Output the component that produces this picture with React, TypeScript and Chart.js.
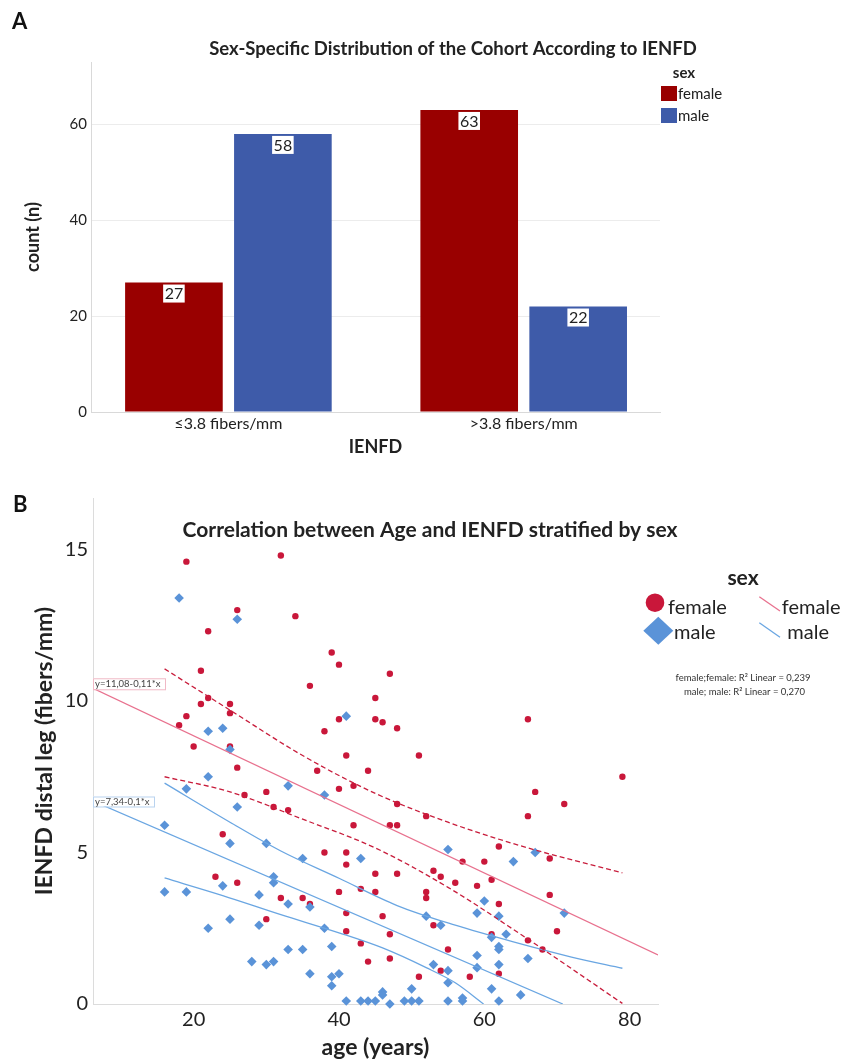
import React, { useEffect, useRef } from 'react';
import { Chart, registerables } from 'chart.js';
Chart.register(...registerables);

const FONT = 'Lato, "Open Sans", sans-serif';

// ---------- Panel A data ----------
const barCategories = ['≤3.8 fibers/mm', '>3.8 fibers/mm'];
const barFemale = [27, 63];
const barMale = [58, 22];
const countTicks = [0, 20, 40, 60];
const titleA = 'Sex-Specific Distribution of the Cohort According to IENFD';

// ---------- Panel B data ----------
const femaleAge = [
  19, 32, 26, 34, 22, 39, 40, 21, 47, 36,
  22, 45, 21, 25, 19, 25, 18, 40, 45, 46,
  48, 38, 66, 20, 25, 41, 51, 26, 37, 44,
  79, 40, 42, 67, 27, 30, 48, 71, 31, 33,
  52, 66, 42, 47, 48, 24, 62, 38, 41, 41,
  57, 60, 69, 45, 48, 53, 54, 61, 23, 26,
  56, 59, 40, 43, 45, 52, 52, 69, 32, 35,
  36, 62, 41, 46, 30, 53, 41, 47, 70, 61,
  43, 66, 68, 55, 44, 47, 54, 62, 58, 51,
];
const femaleIenfd = [
  14.6, 14.8, 13.0, 12.8, 12.3, 11.6, 11.2, 11.0, 10.9, 10.5,
  10.1, 10.1, 9.9, 9.9, 9.5, 9.6, 9.2, 9.4, 9.4, 9.3,
  9.1, 9.0, 9.4, 8.5, 8.5, 8.2, 8.2, 7.8, 7.7, 7.7,
  7.5, 7.1, 7.2, 7.0, 6.9, 7.0, 6.6, 6.6, 6.5, 6.4,
  6.2, 6.2, 5.9, 5.9, 5.9, 5.6, 5.2, 5.0, 5.0, 4.6,
  4.7, 4.7, 4.8, 4.3, 4.3, 4.4, 4.2, 4.1, 4.2, 4.0,
  4.0, 3.9, 3.7, 3.8, 3.7, 3.7, 3.5, 3.6, 3.5, 3.5,
  3.3, 3.3, 3.0, 2.9, 2.8, 2.6, 2.4, 2.3, 2.4, 2.3,
  2.0, 2.1, 1.8, 1.8, 1.4, 1.5, 1.1, 1.0, 0.9, 0.9,
];
const maleAge = [
  18, 26, 22, 24, 41, 25, 22, 19, 33, 38,
  26, 16, 25, 30, 35, 43, 55, 67, 64, 31,
  31, 24, 16, 19, 29, 33, 36, 60, 59, 62,
  71, 52, 25, 29, 22, 38, 54, 61, 63, 33,
  35, 39, 62, 62, 59, 66, 28, 31, 30, 53,
  62, 55, 59, 36, 39, 40, 39, 55, 50, 46,
  46, 61, 65, 57, 41, 43, 44, 45, 49, 50,
  51, 55, 57, 62, 47,
];
const maleIenfd = [
  13.4, 12.7, 9.0, 9.1, 9.5, 8.4, 7.5, 7.1, 7.2, 6.9,
  6.5, 5.9, 5.3, 5.3, 4.8, 4.8, 5.1, 5.0, 4.7, 4.2,
  4.0, 3.9, 3.7, 3.7, 3.6, 3.3, 3.2, 3.4, 3.0, 2.9,
  3.0, 2.9, 2.8, 2.6, 2.5, 2.5, 2.6, 2.2, 2.3, 1.8,
  1.8, 1.9, 1.9, 1.8, 1.6, 1.5, 1.4, 1.4, 1.3, 1.3,
  1.3, 1.1, 1.2, 1.0, 0.9, 1.0, 0.6, 0.7, 0.5, 0.4,
  0.3, 0.5, 0.3, 0.2, 0.1, 0.1, 0.1, 0.1, 0.1, 0.1,
  0.1, 0.1, 0.1, 0.1, 0.0,
];

// fit lines (end points)
const femaleFitAge = [6.15, 83.9];
const femaleFitVal = [10.42, 1.62];
const maleFitAge = [6.15, 70.8];
const maleFitVal = [6.7, 0];
// confidence bands
const femaleCiAge = [16, 25, 35, 45, 55, 65, 79];
const femaleCiUpper = [11.06, 9.7, 8.2, 6.95, 6.0, 5.22, 4.33];
const femaleCiLower = [7.5, 7.0, 6.1, 5.15, 3.85, 2.3, 0.02];
const maleCiUpperAge = [16, 25, 32, 40, 48, 56, 64, 72, 79];
const maleCiUpper = [7.29, 6.0, 5.05, 4.15, 3.25, 2.6, 2.05, 1.55, 1.18];
const maleCiLowerAge = [16, 24, 32, 40, 46, 52, 56, 59.9];
const maleCiLower = [4.16, 3.58, 2.95, 2.35, 1.85, 1.2, 0.7, 0];

const ageTicks = [20, 40, 60, 80];
const ienfdTicks = [0, 5, 10, 15];
const titleB = 'Correlation between Age and IENFD stratified by sex';
const eqFemale = 'y=11,08-0,11*x';
const eqMale = 'y=7,34-0,1*x';
const r2Female = 'female;female: R² Linear = 0,239';
const r2Male = 'male; male: R² Linear = 0,270';

const C_BAR_F = '#990000';
const C_BAR_M = '#3e5ba9';
const C_PT_F = '#c9173a';
const C_PT_M = '#5a93d8';
const C_FIT_F = '#e8718e';
const C_CI_F = '#c81d3c';
const C_LN_M = '#6aa6e2';
const TXT = '#222';

const pts = (xs: number[], ys: number[]) => xs.map((x, i) => ({ x, y: ys[i] }));

const pluginA = {
  id: 'panelA',
  afterDatasetsDraw(chart: any) {
    const ctx = chart.ctx;
    ctx.save();
    const sets = [barFemale, barMale];
    ctx.font = `16px ${FONT}`;
    chart.data.datasets.forEach((_: any, di: number) => {
      const meta = chart.getDatasetMeta(di);
      meta.data.forEach((el: any, i: number) => {
        const txt = String(sets[di][i]);
        const w = ctx.measureText(txt).width + 3;
        const top = el.y + 2;
        ctx.fillStyle = '#fff';
        ctx.fillRect(el.x - w / 2, top, w, 18);
        ctx.fillStyle = TXT;
        ctx.textAlign = 'center';
        ctx.textBaseline = 'middle';
        ctx.fillText(txt, el.x, top + 9.5);
      });
    });
    ctx.fillStyle = TXT;
    ctx.textAlign = 'center';
    ctx.textBaseline = 'middle';
    ctx.font = `bold 18.5px ${FONT}`;
    ctx.fillText(titleA, 453, 49);
    ctx.font = `bold 15px ${FONT}`;
    ctx.fillText('sex', 684, 73);
    ctx.fillStyle = C_BAR_F;
    ctx.fillRect(661, 86, 16, 15);
    ctx.fillStyle = C_BAR_M;
    ctx.fillRect(661, 108, 16, 15);
    ctx.fillStyle = TXT;
    ctx.textAlign = 'left';
    ctx.font = `15px ${FONT}`;
    ctx.fillText('female', 678, 94);
    ctx.fillText('male', 678, 116);
    ctx.restore();
  },
};

const pluginB = {
  id: 'panelB',
  afterDatasetsDraw(chart: any) {
    const ctx = chart.ctx;
    const area = chart.chartArea;
    const ys = chart.scales.y;
    ctx.save();
    // title
    ctx.fillStyle = TXT;
    ctx.textAlign = 'center';
    ctx.textBaseline = 'middle';
    ctx.font = `bold 21px ${FONT}`;
    ctx.fillText(titleB, 430, 60);
    // legend
    ctx.font = `bold 21px ${FONT}`;
    ctx.fillText('sex', 743, 108);
    ctx.fillStyle = C_PT_F;
    ctx.beginPath();
    ctx.arc(655, 132.7, 9.3, 0, Math.PI * 2);
    ctx.fill();
    ctx.fillStyle = C_PT_M;
    ctx.beginPath();
    ctx.moveTo(658.3 - 15, 160.7);
    ctx.lineTo(658.3, 160.7 - 14);
    ctx.lineTo(658.3 + 15, 160.7);
    ctx.lineTo(658.3, 160.7 + 14);
    ctx.closePath();
    ctx.fill();
    ctx.lineWidth = 1.3;
    ctx.strokeStyle = C_FIT_F;
    ctx.beginPath();
    ctx.moveTo(759.3, 126.7);
    ctx.lineTo(780, 141);
    ctx.stroke();
    ctx.strokeStyle = C_LN_M;
    ctx.beginPath();
    ctx.moveTo(759.3, 152.7);
    ctx.lineTo(780, 167.3);
    ctx.stroke();
    ctx.fillStyle = TXT;
    ctx.textAlign = 'left';
    ctx.textBaseline = 'alphabetic';
    ctx.font = `20px ${FONT}`;
    ctx.fillText('female', 668, 144);
    ctx.fillText('female', 781.7, 144);
    ctx.fillText('male', 674, 169.3);
    ctx.fillText('male', 787.3, 169.3);
    ctx.textAlign = 'center';
    ctx.textBaseline = 'middle';
    ctx.font = `9.5px ${FONT}`;
    ctx.fillStyle = '#333';
    ctx.fillText(r2Female, 743, 208.3);
    ctx.fillText(r2Male, 744.5, 221.7);
    // equation boxes
    const drawBox = (txt: string, x: number, y: number, w: number, h: number, border: string) => {
      ctx.fillStyle = '#fff';
      ctx.fillRect(x, y, w, h);
      ctx.strokeStyle = border;
      ctx.lineWidth = 1;
      ctx.strokeRect(x + 0.5, y + 0.5, w, h);
      ctx.fillStyle = '#444';
      ctx.textAlign = 'left';
      ctx.textBaseline = 'middle';
      ctx.font = `9.5px ${FONT}`;
      ctx.fillText(txt, x + 2, y + h / 2 + 0.5);
    };
    const fy = ys.getPixelForValue(femaleFitVal[0]);
    const my = ys.getPixelForValue(maleFitVal[0]);
    drawBox(eqFemale, area.left, fy - 10, 72, 11, '#f0b9c6');
    drawBox(eqMale, area.left, my - 4.5, 61, 10, '#b9d3ef');
    ctx.restore();
  },
};

export default function App() {
  const refA = useRef<HTMLCanvasElement>(null);
  const refB = useRef<HTMLCanvasElement>(null);

  useEffect(() => {
    const chartA = new Chart(refA.current as HTMLCanvasElement, {
      type: 'bar',
      data: {
        labels: barCategories,
        datasets: [
          {
            label: 'female',
            data: barFemale,
            backgroundColor: C_BAR_F,
            barPercentage: 0.896,
            categoryPercentage: 0.738,
          },
          {
            label: 'male',
            data: barMale,
            backgroundColor: C_BAR_M,
            barPercentage: 0.896,
            categoryPercentage: 0.738,
          },
        ],
      },
      options: {
        responsive: false,
        animation: false,
        events: [],
        layout: { padding: { left: 0, right: 182, top: 62, bottom: 0 } },
        plugins: { legend: { display: false }, title: { display: false }, tooltip: { enabled: false } },
        scales: {
          x: {
            type: 'category',
            afterBuildTicks: (s: any) => {
              // widen the category band so group centres sit where the reference puts them
              s._startValue = -0.4653;
              s._valueRange = 1.9269;
            },
            afterFit: (s: any) => {
              s.height = 58;
            },
            ticks: {
              font: { family: FONT, size: 16 },
              color: TXT,
              padding: 2,
              autoSkip: false,
              maxRotation: 0,
            },
            grid: { display: false, drawTicks: false },
            border: { color: '#d9d9d9' },
            title: {
              display: true,
              text: 'IENFD',
              color: TXT,
              font: { family: FONT, size: 18, weight: 'bold' },
              padding: { top: 0, bottom: 12 },
            },
          },
          y: {
            min: 0,
            max: 73,
            afterBuildTicks: (s: any) => {
              s.ticks = countTicks.map((v) => ({ value: v }));
            },
            afterFit: (s: any) => {
              s.width = 91;
            },
            ticks: { font: { family: FONT, size: 15 }, color: TXT, padding: 4 },
            grid: { color: '#ececec', drawTicks: false },
            border: { color: '#d9d9d9' },
            title: {
              display: true,
              text: 'count (n)',
              color: TXT,
              font: { family: FONT, size: 18, weight: 'bold' },
              padding: { top: 22, bottom: 0 },
            },
          },
        },
      } as any,
      plugins: [pluginA],
    });

    const lineDs = (label: string, data: any[], color: string, dash: number[], order: number, smooth: boolean) => ({
      type: 'line' as const,
      label,
      data,
      borderColor: color,
      borderWidth: 1.3,
      borderDash: dash,
      pointRadius: 0,
      fill: false,
      showLine: true,
      cubicInterpolationMode: smooth ? 'monotone' : 'default',
      tension: 0,
      order,
    });

    const chartB = new Chart(refB.current as HTMLCanvasElement, {
      type: 'scatter',
      data: {
        datasets: [
          {
            label: 'female',
            data: pts(femaleAge, femaleIenfd),
            pointStyle: 'circle',
            pointRadius: 3.2,
            pointBackgroundColor: C_PT_F,
            pointBorderWidth: 0,
            clip: false,
            order: 10,
          },
          {
            label: 'male',
            data: pts(maleAge, maleIenfd),
            pointStyle: 'rectRot',
            pointRadius: 4.8,
            pointBackgroundColor: C_PT_M,
            pointBorderWidth: 0,
            clip: false,
            order: 9,
          },
          lineDs('female fit', pts(femaleFitAge, femaleFitVal), C_FIT_F, [], 3, false),
          lineDs('female ci upper', pts(femaleCiAge, femaleCiUpper), C_CI_F, [5, 3], 2, true),
          lineDs('female ci lower', pts(femaleCiAge, femaleCiLower), C_CI_F, [5, 3], 2, true),
          lineDs('male fit', pts(maleFitAge, maleFitVal), C_LN_M, [], 4, false),
          lineDs('male ci upper', pts(maleCiUpperAge, maleCiUpper), C_LN_M, [], 4, true),
          lineDs('male ci lower', pts(maleCiLowerAge, maleCiLower), C_LN_M, [], 4, true),
        ],
      },
      options: {
        responsive: false,
        animation: false,
        events: [],
        layout: { padding: { left: 0, right: 184, top: 28, bottom: 0 } },
        plugins: { legend: { display: false }, title: { display: false }, tooltip: { enabled: false } },
        scales: {
          x: {
            type: 'linear',
            min: 6.15,
            max: 83.9,
            afterBuildTicks: (s: any) => {
              s.ticks = ageTicks.map((v) => ({ value: v }));
            },
            afterFit: (s: any) => {
              s.height = 57;
            },
            ticks: { font: { family: FONT, size: 20 }, color: TXT, padding: 4, maxRotation: 0 },
            grid: { display: false, drawTicks: false },
            border: { color: '#dcdcdc' },
            title: {
              display: true,
              text: 'age (years)',
              color: TXT,
              font: { family: FONT, size: 23, weight: 'bold' },
              padding: { top: 0, bottom: 0 },
            },
          },
          y: {
            min: 0,
            max: 16.7,
            afterBuildTicks: (s: any) => {
              s.ticks = ienfdTicks.map((v) => ({ value: v }));
            },
            afterFit: (s: any) => {
              s.width = 93;
            },
            ticks: { font: { family: FONT, size: 20 }, color: TXT, padding: 5 },
            grid: { display: false, drawTicks: false },
            border: { color: '#dcdcdc' },
            title: {
              display: true,
              text: 'IENFD distal leg (fibers/mm)',
              color: TXT,
              font: { family: FONT, size: 23, weight: 'bold' },
              padding: { top: 31, bottom: 0 },
            },
          },
        },
      } as any,
      plugins: [pluginB],
    });

    return () => {
      chartA.destroy();
      chartB.destroy();
    };
  }, []);

  return (
    <div
      style={{
        position: 'absolute',
        left: 0,
        top: 0,
        width: 842,
        height: 1061,
        background: '#fff',
        overflow: 'hidden',
      }}
    >
      <canvas ref={refA} width={842} height={470} style={{ position: 'absolute', left: 0, top: 0, display: 'block' }} />
      <canvas ref={refB} width={842} height={591} style={{ position: 'absolute', left: 0, top: 470, display: 'block' }} />
      <div
        style={{
          position: 'absolute',
          left: 12,
          top: 10,
          font: `bold 22px ${FONT}`,
          lineHeight: '22px',
          color: '#111',
        }}
      >
        A
      </div>
      <div
        style={{
          position: 'absolute',
          left: 13,
          top: 493,
          font: `bold 22px ${FONT}`,
          lineHeight: '22px',
          color: '#111',
        }}
      >
        B
      </div>
    </div>
  );
}
